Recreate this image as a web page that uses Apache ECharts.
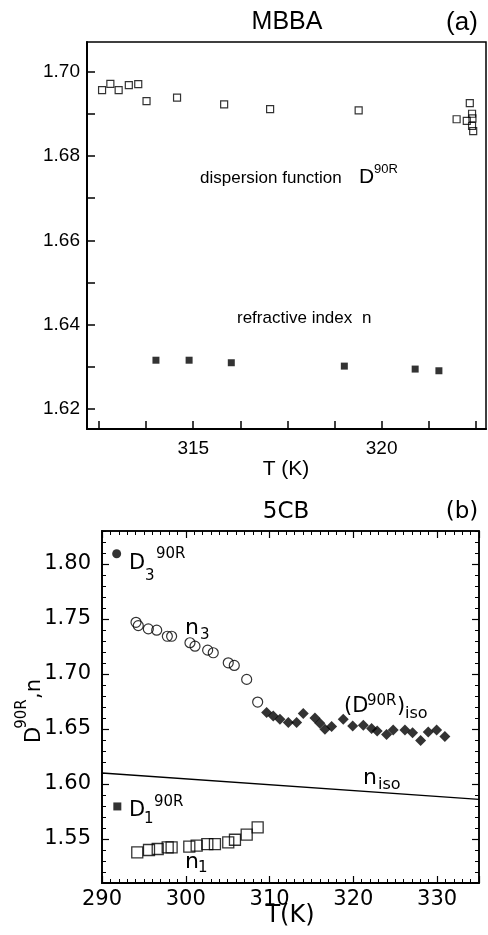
<!DOCTYPE html>
<html><head><meta charset="utf-8">
<script src="https://cdn.jsdelivr.net/npm/echarts@6/dist/echarts.min.js"></script>
<style>html,body{margin:0;padding:0;background:#fff}#c{width:488px;height:935px}</style>
</head><body><div id="c"></div>
<script>
// ---- Panel (a): MBBA ----
const mbbaDispT = [312.58, 312.80, 313.02, 313.29, 313.54, 313.76, 314.57, 315.82, 317.04, 319.39, 322.34, 321.99, 322.26, 322.40, 322.41, 322.40, 322.43];
const mbbaDispV = [1.6956, 1.6971, 1.6956, 1.6968, 1.6970, 1.6930, 1.6938, 1.6922, 1.6911, 1.6908, 1.6925, 1.6887, 1.6883, 1.6900, 1.6889, 1.6871, 1.6859];
const mbbaIdxT = [314.01, 314.89, 316.01, 319.01, 320.89, 321.52];
const mbbaIdxV = [1.6316, 1.6316, 1.6310, 1.6302, 1.6295, 1.6291];
const aXTicks = [312.5, 313.75, 315, 316.25, 317.5, 318.75, 320, 321.25, 322.5];
const aXLabels = [315, 320];
const aYTicks = [1.62, 1.63, 1.64, 1.65, 1.66, 1.67, 1.68, 1.69, 1.70];
const aYLabels = [1.62, 1.64, 1.66, 1.68, 1.70];

// ---- Panel (b): 5CB ----
const n3T = [294.06, 294.33, 295.53, 296.53, 297.80, 298.31, 300.50, 301.10, 302.61, 303.28, 305.07, 305.79, 307.27, 308.58];
const n3V = [1.7470, 1.7440, 1.7410, 1.7398, 1.7343, 1.7343, 1.7284, 1.7253, 1.7217, 1.7193, 1.7102, 1.7078, 1.6951, 1.6745];
const dIsoT = [309.65, 310.44, 311.24, 312.24, 313.23, 314.02, 315.42, 316.01, 316.61, 317.41, 318.80, 319.92, 321.19, 322.18, 322.85, 323.97, 324.76, 326.16, 327.07, 328.03, 328.94, 329.94, 330.93];
const dIsoV = [1.6649, 1.6618, 1.6588, 1.6558, 1.6558, 1.6642, 1.6600, 1.6552, 1.6497, 1.6522, 1.6588, 1.6527, 1.6534, 1.6504, 1.6482, 1.6449, 1.6491, 1.6491, 1.6467, 1.6395, 1.6473, 1.6491, 1.6431];
const n1T = [294.21, 295.61, 296.65, 297.84, 298.31, 300.42, 301.30, 302.57, 303.48, 305.07, 305.87, 307.27, 308.58];
const n1V = [1.5379, 1.5400, 1.5409, 1.5424, 1.5424, 1.5430, 1.5439, 1.5454, 1.5454, 1.5470, 1.5493, 1.5539, 1.5606];
const nIsoT = [290, 335];
const nIsoV = [1.610, 1.586];
const d3T = [291.75];
const d3V = [1.8093];
const d1T = [291.83];
const d1V = [1.5796];
const bYLabels = [1.55, 1.60, 1.65, 1.70, 1.75, 1.80];

const zip = (a, b) => a.map((v, i) => [v, b[i]]);
const A = "'Liberation Sans', Arial, sans-serif";
const B = "'DejaVu Sans', sans-serif";

const chart = echarts.init(document.getElementById('c'), null, {renderer: 'canvas'});

function txt(text, x, y, size, font, align) {
  return {type: 'text', x: x, y: y, z: 100,
    style: {text: text, font: size + 'px ' + font, fill: '#000', align: align || 'left', verticalAlign: 'middle'}};
}

const black = '#000';
const option = {
  animation: false,
  backgroundColor: '#fff',
  grid: [
    {left: 87, top: 42, right: 2, height: 387, show: true, borderColor: black, borderWidth: 1.5, backgroundColor: 'transparent'},
    {left: 102, top: 531, right: 9, bottom: 52, show: true, borderColor: black, borderWidth: 1.5, backgroundColor: 'transparent'}
  ],
  xAxis: [
    {type: 'value', gridIndex: 0, position: 'bottom', min: 312.18, max: 322.77,
      axisLine: {show: true, onZero: false, lineStyle: {color: black, width: 2}},
      axisTick: {show: true, inside: true, length: 8, customValues: aXTicks, lineStyle: {color: black, width: 1.5}},
      axisLabel: {show: true, customValues: aXLabels, margin: 10, color: black, fontFamily: A, fontSize: 19},
      splitLine: {show: false}},
    {type: 'value', gridIndex: 1, position: 'bottom', min: 290, max: 335, interval: 10,
      axisLine: {show: true, onZero: false, lineStyle: {color: black, width: 1.8}},
      axisTick: {show: true, inside: true, length: 7, lineStyle: {color: black, width: 1.2}},
      minorTick: {show: true, splitNumber: 10, length: 4, lineStyle: {color: black, width: 1}},
      axisLabel: {show: true, margin: 6, color: black, fontFamily: B, fontSize: 21,
        formatter: v => (v <= 330 ? String(v) : '')},
      splitLine: {show: false}},
    {type: 'value', gridIndex: 1, position: 'top', min: 290, max: 335, interval: 10,
      axisLine: {show: true, onZero: false, lineStyle: {color: black, width: 1.5}},
      axisTick: {show: true, inside: true, length: 7, lineStyle: {color: black, width: 1.2}},
      minorTick: {show: true, splitNumber: 10, length: 4, lineStyle: {color: black, width: 1}},
      axisLabel: {show: false}, splitLine: {show: false}}
  ],
  yAxis: [
    {type: 'value', gridIndex: 0, position: 'left', min: 1.6153, max: 1.7070,
      axisLine: {show: true, onZero: false, lineStyle: {color: black, width: 2}},
      axisTick: {show: true, inside: true, length: 8, customValues: aYTicks, lineStyle: {color: black, width: 1.5}},
      axisLabel: {show: true, customValues: aYLabels, margin: 7, color: black, fontFamily: A, fontSize: 19,
        formatter: v => v.toFixed(2)},
      splitLine: {show: false}},
    {type: 'value', gridIndex: 1, position: 'left', min: 1.51, max: 1.83,
      axisLine: {show: true, onZero: false, lineStyle: {color: black, width: 1.8}},
      axisTick: {show: true, inside: true, length: 7, customValues: bYLabels, lineStyle: {color: black, width: 1.2}},
      axisLabel: {show: true, customValues: bYLabels, margin: 11, color: black, fontFamily: B, fontSize: 21,
        formatter: v => v.toFixed(2)},
      splitLine: {show: false}},
    {type: 'value', gridIndex: 1, position: 'left', min: 1.51, max: 1.83, interval: 0.01,
      axisLine: {show: false},
      axisTick: {show: true, inside: true, length: 4, lineStyle: {color: black, width: 1}},
      axisLabel: {show: false}, splitLine: {show: false}},
    {type: 'value', gridIndex: 1, position: 'right', min: 1.51, max: 1.83,
      axisLine: {show: true, onZero: false, lineStyle: {color: black, width: 1.5}},
      axisTick: {show: true, inside: true, length: 7, customValues: bYLabels, lineStyle: {color: black, width: 1.2}},
      axisLabel: {show: false}, splitLine: {show: false}},
    {type: 'value', gridIndex: 1, position: 'right', min: 1.51, max: 1.83, interval: 0.01,
      axisLine: {show: false},
      axisTick: {show: true, inside: true, length: 4, lineStyle: {color: black, width: 1}},
      axisLabel: {show: false}, splitLine: {show: false}}
  ],
  series: [
    {type: 'scatter', xAxisIndex: 0, yAxisIndex: 0, data: zip(mbbaDispT, mbbaDispV), symbol: 'rect', symbolSize: 7,
      itemStyle: {color: 'rgba(0,0,0,0)', borderColor: black, borderWidth: 1.2}},
    {type: 'scatter', xAxisIndex: 0, yAxisIndex: 0, data: zip(mbbaIdxT, mbbaIdxV), symbol: 'rect', symbolSize: 7,
      itemStyle: {color: black}},
    {type: 'line', xAxisIndex: 1, yAxisIndex: 1, data: zip(nIsoT, nIsoV), showSymbol: false, symbol: 'none',
      lineStyle: {color: black, width: 1.3}},
    {type: 'scatter', xAxisIndex: 1, yAxisIndex: 1, data: zip(n3T, n3V), symbol: 'circle', symbolSize: 10,
      itemStyle: {color: 'rgba(0,0,0,0)', borderColor: black, borderWidth: 1.2}},
    {type: 'scatter', xAxisIndex: 1, yAxisIndex: 1, data: zip(dIsoT, dIsoV), symbol: 'diamond', symbolSize: [11, 11],
      itemStyle: {color: black}},
    {type: 'scatter', xAxisIndex: 1, yAxisIndex: 1, data: zip(n1T, n1V), symbol: 'rect', symbolSize: 11,
      itemStyle: {color: 'rgba(0,0,0,0)', borderColor: black, borderWidth: 1.3}},
    {type: 'scatter', xAxisIndex: 1, yAxisIndex: 1, data: zip(d3T, d3V), symbol: 'circle', symbolSize: 9,
      itemStyle: {color: black}},
    {type: 'scatter', xAxisIndex: 1, yAxisIndex: 1, data: zip(d1T, d1V), symbol: 'rect', symbolSize: 8,
      itemStyle: {color: black}}
  ],
  graphic: [
    // panel (a) titles
    txt('MBBA', 287, 22, 25, A, 'center'),
    txt('(a)', 462, 23, 26, A, 'center'),
    txt('T (K)', 286, 469, 21, A, 'center'),
    txt('dispersion function', 200, 178, 17, A),
    txt('D', 359, 177, 21, A),
    txt('90R', 374, 169, 13, A),
    txt('refractive index', 237, 318, 17, A),
    txt('n', 362, 318, 17, A),
    // panel (b) titles
    txt('5CB', 286, 512, 23, B, 'center'),
    txt('(b)', 462, 512, 23, B, 'center'),
    txt('T(K)', 290, 916, 24, B, 'center'),
    // D3 90R
    txt('D', 129, 564, 21, B),
    txt('3', 145, 576, 15, B),
    txt('90R', 156, 554, 15, B),
    // D1 90R
    txt('D', 129, 811, 21, B),
    txt('1', 144, 819, 15, B),
    txt('90R', 154, 802, 15, B),
    // n3
    txt('n', 185, 628, 22, B),
    txt('3', 200, 635, 15, B),
    // (D90R)iso
    txt('(D', 344, 707, 21, B),
    txt('90R', 367, 701, 15, B),
    txt(')', 397, 707, 21, B),
    txt('iso', 405, 714, 16, B),
    // n iso
    txt('n', 363, 778, 22, B),
    txt('iso', 378, 785, 16, B),
    // n1
    txt('n', 185, 862, 22, B),
    txt('1', 198, 868, 15, B),
    // y-axis name panel (b), rotated
    {type: 'group', x: 35, y: 745, rotation: Math.PI / 2, z: 100, children: [
      {type: 'text', x: 10, y: 0, style: {text: 'D', font: '21px ' + B, fill: black, align: 'center', verticalAlign: 'middle'}},
      {type: 'text', x: 31, y: -13, style: {text: '90R', font: '15px ' + B, fill: black, align: 'center', verticalAlign: 'middle'}},
      {type: 'text', x: 56, y: 0, style: {text: ',n', font: '21px ' + B, fill: black, align: 'center', verticalAlign: 'middle'}}
    ]}
  ]
};
chart.setOption(option);
</script>
</body></html>
